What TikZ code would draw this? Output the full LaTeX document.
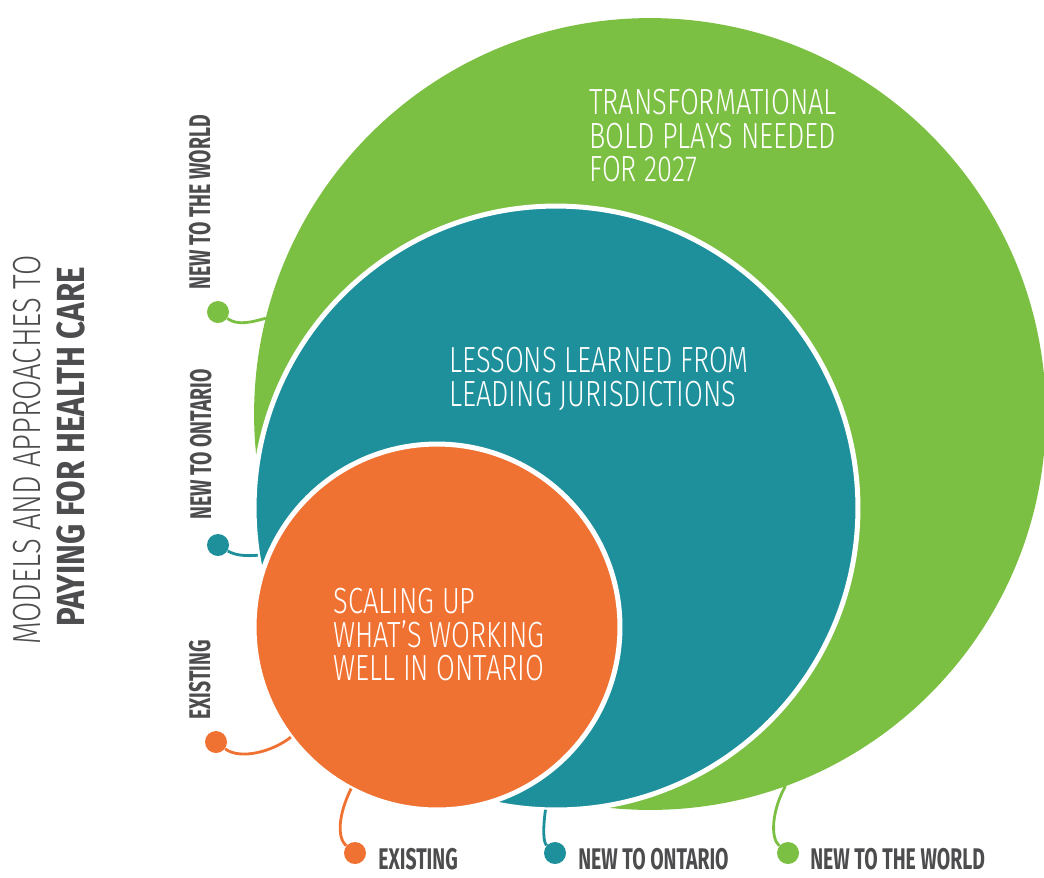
\documentclass[tikz,border=0pt]{standalone}
\usepackage{fontspec}
\usetikzlibrary{positioning}
\newfontfamily\thinfont{Fira Sans Light}[FakeStretch=0.75]
\newfontfamily\tagfont{Fira Sans}[FakeStretch=0.65]
\newfontfamily\headfont{Fira Sans}[FakeStretch=0.80]
\definecolor{worldgreen}{RGB}{124, 192, 67}
\definecolor{ontarioteal}{RGB}{30, 144, 155}
\definecolor{existorange}{RGB}{240, 114, 50}
\definecolor{labelgrey}{RGB}{77, 77, 79}

\begin{document}
\begin{tikzpicture}[
    x=0.02cm, y=-0.02cm,
    ring/.style={circle, fill=#1, inner sep=0pt, outer sep=0pt},
    bullet/.style={circle, fill=#1, inner sep=0pt, minimum size=0.44cm},
    link/.style={draw=#1, line width=1.6pt},
    tagtext/.style={text=labelgrey, inner sep=0pt, font=\tagfont\bfseries\fontsize{17}{17}\selectfont},
    blurb/.style={text=white, inner sep=0pt, align=left, font=\thinfont\fontsize{20.7}{19.1}\selectfont}
]
\useasboundingbox (0,0) rectangle (1044,877);

\node (world) [ring=worldgreen, minimum size=15.84cm] at (650,414) {};

\node (ontario) [ring=ontarioteal, draw=white, line width=0.1cm, minimum size=12.08cm] at (556,508) {};

\node (existing) [ring=existorange, draw=white, line width=0.1cm, minimum size=7.32cm] at (437,627) {};

\node (worldtxt) [blurb, anchor=north west] at (589,89) {TRANSFORMATIONAL\\BOLD PLAYS NEEDED\\FOR 2027};

\node (ontariotxt) [blurb, anchor=north west] at (449,347) {LESSONS LEARNED FROM\\LEADING JURISDICTIONS};

\node (existingtxt) [blurb, anchor=north west] at (333,588) {SCALING UP\\WHAT’S WORKING\\WELL IN ONTARIO};

\node (title) [text=labelgrey, inner sep=0pt, rotate=90, anchor=base west, font=\thinfont\fontsize{22.3}{22.3}\selectfont] at (40,645) {MODELS AND APPROACHES TO};

\node (subtitle) [text=labelgrey, inner sep=0pt, rotate=90, anchor=base west, font=\headfont\bfseries\fontsize{22.3}{22.3}\selectfont] at (84,627) {PAYING FOR HEALTH CARE};

\node (worldL) [bullet=worldgreen] at (218,312) {};
\node (ontarioL) [bullet=ontarioteal] at (218,545) {};
\node (existL) [bullet=existorange] at (216,742) {};

\node (worldLtag) [tagtext, rotate=90, anchor=base west] at (210,290) {NEW TO THE WORLD};
\node (ontarioLtag) [tagtext, rotate=90, anchor=base west] at (211,520) {NEW TO ONTARIO};
\node (existLtag) [tagtext, rotate=90, anchor=base west] at (210,720) {EXISTING};

\node (existB) [bullet=existorange] at (355,853) {};
\node (ontarioB) [bullet=ontarioteal] at (555,853) {};
\node (worldB) [bullet=worldgreen] at (788,853) {};

\node (existBtag) [tagtext, anchor=base west] at (378,869) {EXISTING};
\node (ontarioBtag) [tagtext, anchor=base west] at (578,869) {NEW TO ONTARIO};
\node (worldBtag) [tagtext, anchor=base west] at (810,869) {NEW TO THE WORLD};

\draw[link=worldgreen] (worldL) .. controls (238,326) and (252,322) .. (world.166);
\draw[link=ontarioteal] (ontarioL) .. controls (236,556) and (248,556) .. (ontario.189);
\draw[link=existorange] (existL) .. controls (240,760) and (272,752) .. (existing.217);

\draw[link=existorange] (existing.242) .. controls (338,815) and (337,838) .. (existB);
\draw[link=ontarioteal] (ontario.268) .. controls (543,828) and (543,842) .. (ontarioB);
\draw[link=worldgreen] (world.290) .. controls (772,810) and (770,838) .. (worldB);

\end{tikzpicture}
\end{document}
